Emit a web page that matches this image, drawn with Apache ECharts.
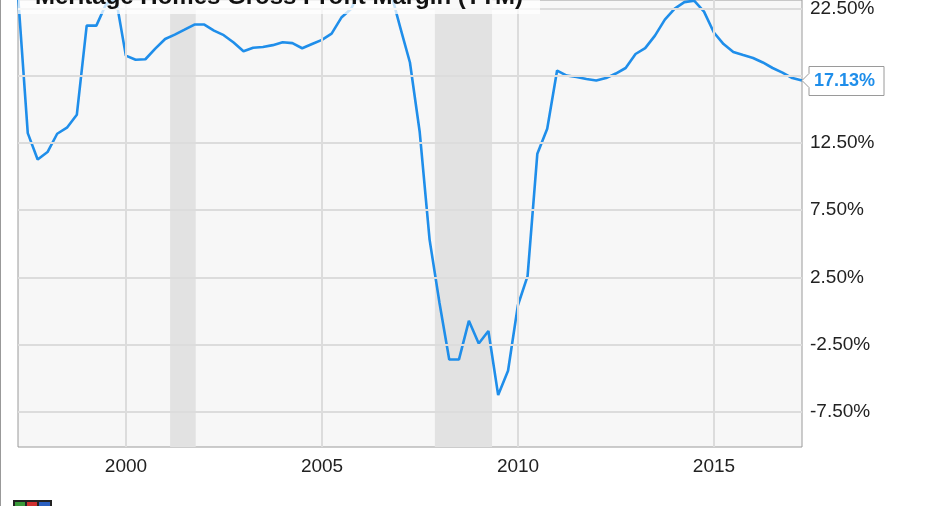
<!DOCTYPE html>
<html><head><meta charset="utf-8">
<script src="https://cdn.jsdelivr.net/npm/echarts@6/dist/echarts.min.js"></script>
<style>html,body{margin:0;padding:0;background:#fff}#c{width:931px;height:506px}</style>
</head><body><div id="c"></div>
<script>
const chartTitle = 'Meritage Homes Gross Profit Margin (TTM)';
const firstYear = 1997;
const quarterEnds = ['03-31', '06-30', '09-30', '12-31'];
// TTM gross margin (%), quarterly from Mar 1997 to Mar 2017
const margins = [
  23.5, 13.22, 11.26, 11.81,
  13.17, 13.62, 14.58, 21.21,
  21.21, 22.82, 23.2, 18.98,
  18.67, 18.71, 19.5, 20.22,
  20.54, 20.91, 21.29, 21.29,
  20.84, 20.5, 19.95, 19.3,
  19.56, 19.62, 19.76, 19.97,
  19.91, 19.53, 19.84, 20.15,
  20.62, 21.81, 22.47, 24.0,
  25.8, 25.9, 23.8, 21.06,
  18.47, 13.3, 5.3, 0.6,
  -3.61, -3.61, -0.74, -2.42,
  -1.5, -6.26, -4.45, 0.42,
  2.58, 11.69, 13.54, 17.87,
  17.5, 17.39, 17.24, 17.13,
  17.31, 17.65, 18.06, 19.1,
  19.54, 20.47, 21.66, 22.47,
  22.96, 23.07, 22.25, 20.7,
  19.84, 19.25, 19.02, 18.8,
  18.47, 18.06, 17.72, 17.31,
  17.13
];
const yTicks = [22.5, 17.5, 12.5, 7.5, 2.5, -2.5, -7.5];
const xTickYears = [2000, 2005, 2010, 2015];
const recessions = [['2001-02-15', '2001-10-12'], ['2007-11-18', '2009-05-04']];

const dates = margins.map((v, i) => (firstYear + Math.floor(i / 4)) + '-' + quarterEnds[i % 4]);
const seriesData = dates.map((d, i) => [d, margins[i]]);

const FONT = '"Liberation Sans", Arial, sans-serif';
const chart = echarts.init(document.getElementById('c'), null, {renderer: 'canvas'});

const gridLineData = [
  ...yTicks.map(v => ({
    yAxis: v,
    label: {show: true, position: 'end', distance: 8, formatter: v.toFixed(2) + '%',
      color: '#222', fontSize: 19, fontFamily: FONT}
  })),
  ...xTickYears.map(y => ({
    xAxis: y + '-01-01',
    label: {show: true, position: 'start', distance: 10, formatter: String(y),
      color: '#222', fontSize: 19, fontFamily: FONT}
  }))
];

chart.setOption({
  animation: false,
  backgroundColor: '#fff',
  grid: {left: 18, right: 129, top: -1, bottom: 59, show: true,
    backgroundColor: '#f7f7f7', borderColor: '#9a9a9a', borderWidth: 1},
  xAxis: {type: 'time', min: dates[0], max: dates[dates.length - 1],
    axisLabel: {show: false}, axisLine: {show: false}, axisTick: {show: false}, splitLine: {show: false}},
  yAxis: {type: 'value', min: -10.12, max: 23.116,
    axisLabel: {show: false}, axisLine: {show: false}, axisTick: {show: false}, splitLine: {show: false}},
  series: [
    {type: 'line', data: seriesData, z: 1, silent: true, showSymbol: false,
      lineStyle: {opacity: 0},
      markArea: {silent: true, itemStyle: {color: '#e2e2e2'},
        data: recessions.map(r => [{xAxis: r[0]}, {xAxis: r[1]}])}},
    {type: 'line', data: seriesData, z: 2, silent: true, showSymbol: false,
      lineStyle: {opacity: 0},
      markLine: {silent: true, symbol: ['none', 'none'], animation: false,
        lineStyle: {color: '#dcdcdc', width: 2, type: 'solid'},
        data: gridLineData}},
    {type: 'line', data: seriesData, z: 3, showSymbol: false, silent: true,
      lineStyle: {color: '#1f8eea', width: 2.6}}
  ]
});

const lastIdx = margins.length - 1;
const p = chart.convertToPixel({seriesIndex: 2}, [dates[lastIdx], margins[lastIdx]]);
chart.setOption({
  graphic: [
    {type: 'rect', z: 100, shape: {x: 18, y: 0, width: 522, height: 14},
      style: {fill: 'rgba(255,255,255,0.75)'}},
    {type: 'text', z: 101, style: {text: chartTitle, x: 35, y: 9, verticalAlign: 'bottom',
      font: 'bold 24px ' + FONT, fill: '#111'}},
    {type: 'group', z: 110, x: p[0], y: p[1], children: [
      {type: 'polygon', z: 110, shape: {points: [[0, 0], [7, -7], [7, -14], [82, -14], [82, 15], [7, 15], [7, 7]]},
        style: {fill: '#fff', stroke: '#9a9a9a', lineWidth: 1}},
      {type: 'text', z: 111, style: {text: margins[lastIdx].toFixed(2) + '%', x: 12, y: 1,
        verticalAlign: 'middle', font: 'bold 18px ' + FONT, fill: '#1f8eea'}}
    ]},
    {type: 'line', z: 100, shape: {x1: 0.5, y1: 0, x2: 0.5, y2: 506}, style: {stroke: '#999', lineWidth: 1}},
    {type: 'group', z: 100, children: [
      {type: 'rect', shape: {x: 13, y: 500, width: 39, height: 7}, style: {fill: '#222'}},
      {type: 'rect', shape: {x: 15, y: 502, width: 10, height: 5}, style: {fill: '#3a9a3a'}},
      {type: 'rect', shape: {x: 27, y: 502, width: 10, height: 5}, style: {fill: '#d03030'}},
      {type: 'rect', shape: {x: 39, y: 502, width: 11, height: 5}, style: {fill: '#2a5fc0'}}
    ]}
  ]
});
</script>
</body></html>
